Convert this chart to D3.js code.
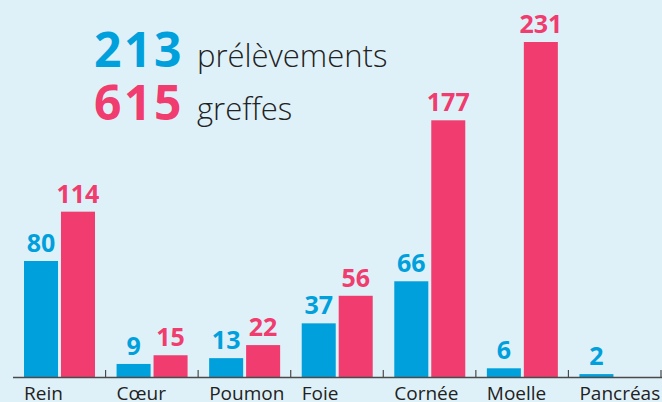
<!DOCTYPE html>
<html>
<head>
<meta charset="utf-8">
<script src="https://cdn.jsdelivr.net/npm/d3@7"></script>
<style>
  html, body { margin: 0; padding: 0; background: #dff1f8; }
  svg { display: block; }
  text { font-family: "Open Sans", "Noto Sans", sans-serif; }
</style>
</head>
<body>
<div id="chart"></div>
<script>
//chart data
var categories = ['Rein', 'Cœur', 'Poumon', 'Foie', 'Cornée', 'Moelle', 'Pancréas'];
var seriesKeys = ['prelevements', 'greffes'];
var prelevements = [80, 9, 13, 37, 66, 6, 2];
var greffes = [114, 15, 22, 56, 177, 231, null];
var totals = [213, 615];
var totalLabels = ['prélèvements', 'greffes'];
var colors = ['#00a0dc', '#f03c6e'];

//declare sizes
var width = 662,
    height = 402,
    baseline = 377;

var svg = d3.select('#chart').append('svg')
    .attr('width', width)
    .attr('height', height);

svg.append('rect')
    .attr('width', width)
    .attr('height', height)
    .attr('fill', '#dff1f8');

//scales
var x0 = d3.scaleBand().domain(categories).range([13, 661]).paddingInner(0);
var x1 = d3.scaleBand().domain(seriesKeys).range([11, 82]).paddingInner(0.08);
var y = d3.scaleLinear().domain([0, 231]).range([baseline, 42]);

var rows = categories.map(function (c, i) {
    return { cat: c, values: [prelevements[i], greffes[i]] };
});

var groups = svg.selectAll('g.group')
    .data(rows)
    .enter()
    .append('g')
    .attr('class', 'group')
    .attr('transform', function (d) { return 'translate(' + x0(d.cat) + ',0)'; });

var cells = groups.selectAll('g.cell')
    .data(function (d) {
        return d.values.map(function (v, j) { return { key: seriesKeys[j], value: v, idx: j }; })
            .filter(function (e) { return e.value !== null; });
    })
    .enter()
    .append('g')
    .attr('class', 'cell');

cells.append('rect')
    .attr('x', function (d) { return x1(d.key); })
    .attr('width', x1.bandwidth())
    .attr('y', function (d) { return y(d.value); })
    .attr('height', function (d) { return baseline - y(d.value); })
    .attr('fill', function (d) { return colors[d.idx]; });

cells.append('text')
    .attr('x', function (d) { return x1(d.key) + x1.bandwidth() / 2; })
    .attr('y', function (d) { return y(d.value) - 9; })
    .attr('text-anchor', 'middle')
    .attr('font-size', 25)
    .attr('font-weight', 700)
    .attr('fill', function (d) { return colors[d.idx]; })
    .text(function (d) { return d.value; });

//axis line and ticks
svg.append('line')
    .attr('x1', 13).attr('x2', 662)
    .attr('y1', baseline + 0.5).attr('y2', baseline + 0.5)
    .attr('stroke', '#4a4a4a')
    .attr('stroke-width', 1.6);

svg.selectAll('line.tick')
    .data(categories)
    .enter()
    .append('line')
    .attr('class', 'tick')
    .attr('x1', function (d) { return x0(d) + x0.bandwidth(); })
    .attr('x2', function (d) { return x0(d) + x0.bandwidth(); })
    .attr('y1', baseline - 7)
    .attr('y2', baseline)
    .attr('stroke', '#4a4a4a')
    .attr('stroke-width', 1.2);

//category labels
svg.selectAll('text.cat')
    .data(categories)
    .enter()
    .append('text')
    .attr('class', 'cat')
    .attr('x', function (d) { return x0(d) + x1('prelevements'); })
    .attr('y', 400)
    .attr('font-size', 19)
    .attr('fill', '#222')
    .text(function (d) { return d; });

//headline totals
var head = svg.selectAll('g.total')
    .data(totals)
    .enter()
    .append('g')
    .attr('class', 'total')
    .attr('transform', function (d, i) { return 'translate(94,' + (67 + i * 53) + ')'; });

head.append('text')
    .attr('font-size', 48)
    .attr('font-weight', 700)
    .attr('letter-spacing', 2.5)
    .attr('fill', function (d, i) { return colors[i]; })
    .text(function (d) { return d; });

head.append('text')
    .attr('x', 103)
    .attr('font-size', 31)
    .attr('font-weight', 300)
    .attr('fill', '#222')
    .text(function (d, i) { return totalLabels[i]; });
</script>
</body>
</html>
